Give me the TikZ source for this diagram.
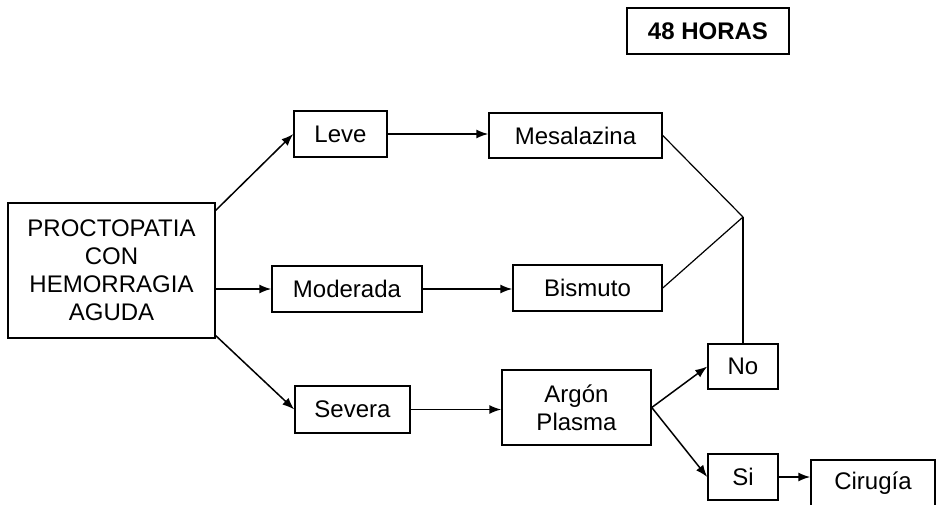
\documentclass[tikz,border=0pt]{standalone}
\usepackage{fontspec}
\setmainfont{Liberation Sans}
\usetikzlibrary{arrows.meta}

\begin{document}
\begin{tikzpicture}[
                x = 0.5pt, y = -0.5pt,
                box/.style = {draw, line width = 0.75pt, align = center, inner sep = 0mm, font = \fontsize{12}{14}\selectfont},
                arr/.style = {draw, line width = 0.75pt, -{Latex[length = 6pt, width = 4.5pt]}},
                ln/.style = {draw, line width = 0.6pt},
            ]
            \clip (0,0) rectangle (936,504);

            \node (hrs) [box, minimum width = 81pt, minimum height = 23pt, font = \fontsize{12}{14}\selectfont\bfseries] at (708,31){48 HORAS};

            \node (main) [box, minimum width = 103.5pt, minimum height = 67.5pt] at (111.5,270.5){PROCTOPATIA\\CON\\HEMORRAGIA\\AGUDA};

            \node (leve) [box, minimum width = 46.5pt, minimum height = 23pt] at (340.5,134){Leve};
            \node (mod) [box, minimum width = 75pt, minimum height = 23pt] at (347,289){Moderada};
            \node (sev) [box, minimum width = 57.5pt, minimum height = 23.5pt] at (352.5,409.5){Severa};

            \node (mes) [box, minimum width = 86.5pt, minimum height = 22.5pt] at (575.5,135.5){Mesalazina};
            \node (bis) [box, minimum width = 74.5pt, minimum height = 23pt] at (587.5,288){Bismuto};
            \node (arg) [box, minimum width = 74.5pt, minimum height = 37.5pt] at (576.5,407.5){Argón\\Plasma};

            \node (no) [box, minimum width = 35pt, minimum height = 22.5pt] at (743,366.5){No};
            \node (si) [box, minimum width = 35pt, minimum height = 23pt] at (743,477){Si};
            \node (cir) [box, minimum width = 62pt, minimum height = 23pt] at (873,483){Cirugía};

            \coordinate (j) at (743,217);

            \path[arr] (main.30) -- (leve.west);
            \path[arr] (mod.west -| main.east) -- (mod.west);
            \path[arr] (main.-32) -- (sev.west);
            \path[arr] (leve.east) -- (leve.east -| mes.west);
            \path[arr] (mod.east) -- (mod.east -| bis.west);
            \path[arr] (sev.east) -- (sev.east -| arg.west);
            \path[arr] (arg.east) -- (no.west);
            \path[arr] (arg.east) -- (si.west);
            \path[arr] (si.east) -- (si.east -| cir.west);

            \path[ln] (mes.east) -- (j);
            \path[ln] (bis.east) -- (j);
            \path[ln] (j) -- (no.north);
        \end{tikzpicture}
\end{document}
